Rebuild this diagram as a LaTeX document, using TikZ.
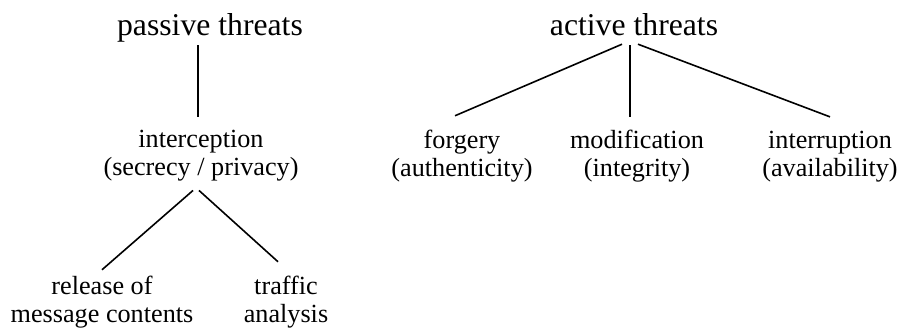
\documentclass[tikz,border=0pt]{standalone}
\usepackage{fontspec}
\setmainfont{Liberation Serif}
\begin{document}
\begin{tikzpicture}[x=0.5pt, y=-0.5pt, line width=0.8pt,
  every node/.style={inner sep=0pt, align=center, font=\fontsize{13.1}{14}\selectfont},
  rootnode/.style={font=\fontsize{15.85}{18}\selectfont, text depth=0.22em, anchor=base},
  leafnode/.style={anchor=base},
  link/.style={shorten <=2.5pt, shorten >=6pt}]
  \useasboundingbox (0,0) rectangle (903,328);

  \node[rootnode] (passive) at (210,35) {passive threats};
  \node[leafnode] (intercept) at (201,175) {interception\\(secrecy / privacy)};
  \node[leafnode] (release) at (102,322) {release of\\message contents};
  \node[leafnode] (traffic) at (286,322) {traffic\\analysis};

  \node[rootnode] (active) at (634,35) {active threats};
  \node[leafnode] (forgery) at (462,176) {forgery\\(authenticity)};
  \node[leafnode] (modif) at (637,176) {modification\\(integrity)};
  \node[leafnode] (interrupt) at (830,176) {interruption\\(availability)};

  % passive side
  \draw[link] ([xshift=-1.5pt]intercept.north |- passive.south) -- ([xshift=-1.5pt]intercept.north);
  \draw ([xshift=-4pt,yshift=-4.5pt]intercept.south) -- ([yshift=2.5pt]release.north);
  \draw ([xshift=-1pt,yshift=-4.5pt]intercept.south) -- ([xshift=-4pt,yshift=6.5pt]traffic.north);

  % active side
  \draw ([xshift=-6pt,yshift=-2pt]active.south) -- ([xshift=-3.5pt,yshift=6.5pt]forgery.north);
  \draw[link] ([xshift=-2pt]active.south) -- ([xshift=-2pt]active.south |- modif.north);
  \draw ([xshift=2pt,yshift=-2pt]active.south) -- ([yshift=6.5pt]interrupt.north);
\end{tikzpicture}
\end{document}
